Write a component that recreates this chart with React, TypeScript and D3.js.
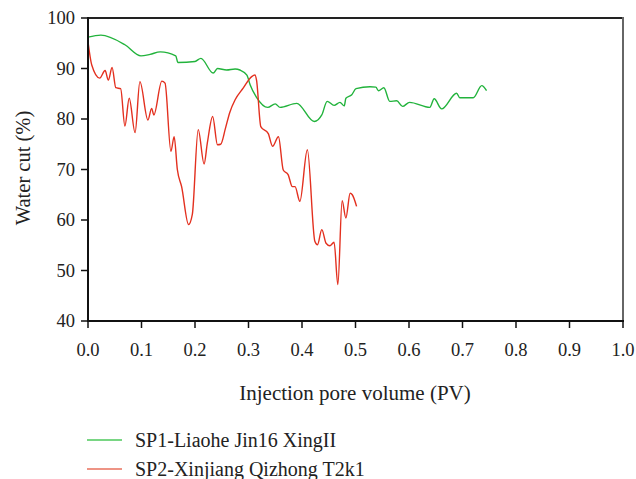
import React from "react";
import * as d3 from "d3";

const greenX = [0, 0.024, 0.069, 0.099, 0.116, 0.135, 0.164, 0.168, 0.2, 0.211, 0.234, 0.242, 0.259, 0.275, 0.284, 0.297, 0.303, 0.315, 0.336, 0.35, 0.359, 0.39, 0.423, 0.437, 0.447, 0.46, 0.471, 0.479, 0.482, 0.493, 0.501, 0.527, 0.538, 0.543, 0.553, 0.564, 0.577, 0.588, 0.601, 0.639, 0.647, 0.661, 0.689, 0.695, 0.72, 0.736, 0.745];
const greenY = [96.2, 96.6, 94.7, 92.5, 92.8, 93.3, 92.5, 91.2, 91.4, 92.0, 89.1, 90.0, 89.7, 89.9, 89.7, 88.7, 86.8, 84.3, 82.3, 83.0, 82.3, 83.1, 79.5, 80.8, 83.5, 82.7, 83.3, 82.6, 84.1, 84.8, 86.0, 86.4, 86.3, 85.6, 86.2, 83.5, 83.6, 82.5, 83.3, 82.3, 84.0, 82.0, 85.1, 84.2, 84.2, 86.6, 85.6];

const redX = [0, 0.007, 0.022, 0.032, 0.038, 0.045, 0.052, 0.061, 0.069, 0.077, 0.088, 0.097, 0.112, 0.119, 0.123, 0.138, 0.144, 0.155, 0.161, 0.167, 0.175, 0.188, 0.195, 0.206, 0.217, 0.223, 0.233, 0.242, 0.248, 0.257, 0.265, 0.275, 0.29, 0.306, 0.312, 0.315, 0.323, 0.337, 0.345, 0.356, 0.365, 0.374, 0.382, 0.387, 0.396, 0.41, 0.424, 0.429, 0.437, 0.445, 0.452, 0.46, 0.467, 0.475, 0.482, 0.49, 0.494, 0.502];
const redY = [95.3, 90.7, 88.1, 89.6, 87.7, 90.2, 86.2, 86.0, 78.6, 84.1, 77.3, 87.4, 79.8, 82.1, 80.8, 87.5, 87.1, 73.6, 76.5, 70.0, 66.6, 59.1, 61.1, 77.9, 71.1, 75.2, 80.5, 74.9, 75.0, 78.2, 81.3, 83.8, 86.1, 88.4, 88.7, 87.7, 78.5, 77.1, 74.6, 76.5, 69.9, 69.0, 66.6, 66.6, 63.7, 73.9, 55.8, 55.1, 58.1, 55.4, 54.9, 55.6, 47.2, 63.8, 60.4, 65.3, 65.0, 62.7];

const xTicks = [0, 0.1, 0.2, 0.3, 0.4, 0.5, 0.6, 0.7, 0.8, 0.9, 1.0];
const yTicks = [40, 50, 60, 70, 80, 90, 100];

const seriesNames = ["SP1-Liaohe Jin16 XingII", "SP2-Xinjiang Qizhong T2k1"];

const FONT = "'Liberation Serif', 'DejaVu Serif', serif";

export default function App() {
  const W = 636, H = 479;
  const L = 88, R = 623, T = 18, B = 321;
  const x = d3.scaleLinear().domain([0, 1]).range([L, R]);
  const y = d3.scaleLinear().domain([40, 100]).range([B, T]);
  const line = d3
    .line<[number, number]>()
    .x((d) => x(d[0]))
    .y((d) => y(d[1]))
    .curve(d3.curveMonotoneX);
  const green = greenX.map((v, i) => [v, greenY[i]] as [number, number]);
  const red = redX.map((v, i) => [v, redY[i]] as [number, number]);
  const colors = ["#22b33c", "#e3301f"];
  const legendColors = ["#4cc95b", "#e8705c"];

  return (
    <svg
      width={W}
      height={H}
      style={{ position: "absolute", left: 0, top: 0, background: "#fff" }}
      fontFamily={FONT}
    >
      <line x1={L} x2={R} y1={T} y2={T} stroke="#222" strokeWidth={2} />
      <line x1={R} x2={R} y1={T - 1} y2={B} stroke="#666" strokeWidth={2} />
      <path d={line(green) || ""} fill="none" stroke={colors[0]} strokeWidth={1.4} />
      <path d={line(red) || ""} fill="none" stroke={colors[1]} strokeWidth={1.4} />
      <line x1={L} x2={L} y1={T - 1} y2={B + 1} stroke="#111" strokeWidth={2} />
      <line x1={L - 1} x2={R + 1} y1={B} y2={B} stroke="#111" strokeWidth={2} />
      {yTicks.map((t) => (
        <g key={"y" + t}>
          <line x1={L - 7} x2={L} y1={y(t)} y2={y(t)} stroke="#111" strokeWidth={1.5} />
          <text x={L - 13} y={y(t)} dy="0.35em" textAnchor="end" fontSize={18.5} fill="#222">
            {t}
          </text>
        </g>
      ))}
      {xTicks.map((t) => (
        <g key={"x" + t}>
          <line x1={x(t)} x2={x(t)} y1={B} y2={B + 7} stroke="#111" strokeWidth={1.5} />
          <text x={x(t)} y={356} textAnchor="middle" fontSize={18.5} fill="#222">
            {t.toFixed(1)}
          </text>
        </g>
      ))}
      <text x={355} y={400} textAnchor="middle" fontSize={21} fill="#222">
        Injection pore volume (PV)
      </text>
      <text
        transform={`translate(30, 168) rotate(-90)`}
        textAnchor="middle"
        fontSize={20.5}
        fill="#222"
      >
        Water cut (%)
      </text>
      {seriesNames.map((n, i) => (
        <g key={n} transform={`translate(0, ${440 + i * 29})`}>
          <line x1={87} x2={122} y1={0} y2={0} stroke={legendColors[i]} strokeWidth={1.5} />
          <text x={135} y={0} dy="0.35em" fontSize={20} fill="#222">
            {n}
          </text>
        </g>
      ))}
    </svg>
  );
}
